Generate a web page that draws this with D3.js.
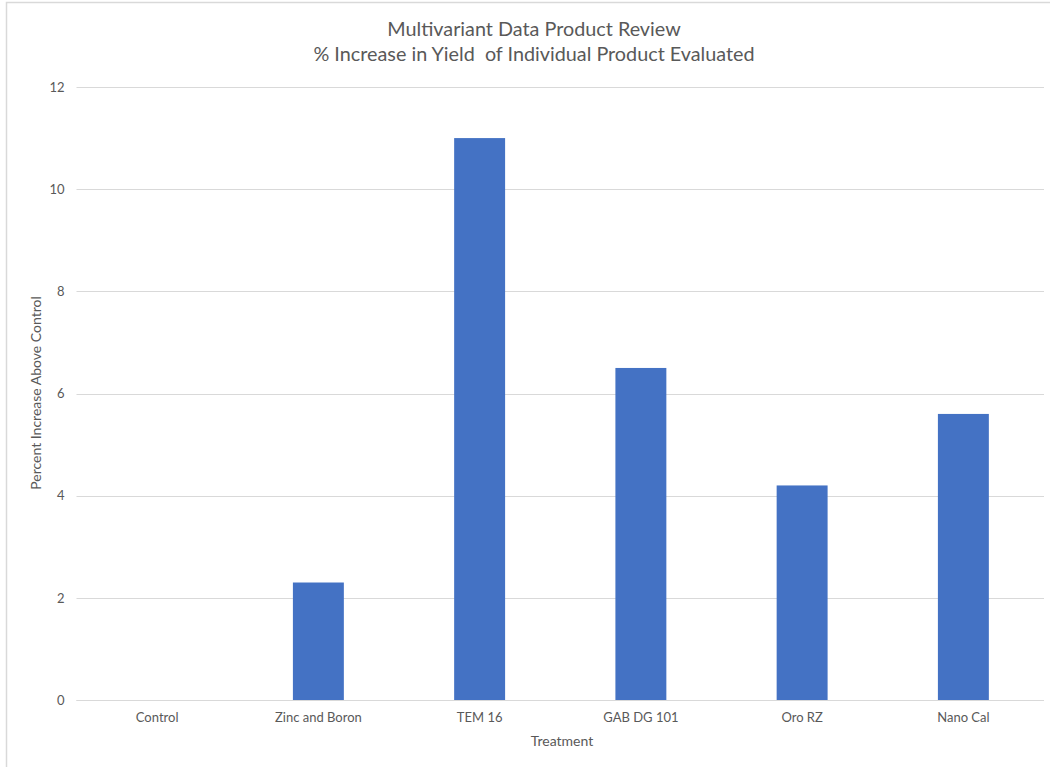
<!DOCTYPE html>
<html><head><meta charset="utf-8">
<script src="https://cdn.jsdelivr.net/npm/d3@7"></script>
<style>body{margin:0;background:#fff;}svg{display:block;font-family:Lato,"Open Sans",sans-serif;}</style>
</head><body><svg id="c" width="1050" height="767"></svg>
<script>
const categories = ["Control","Zinc and Boron","TEM 16","GAB DG 101","Oro RZ","Nano Cal"];
const values = [0, 2.3, 11.0, 6.5, 4.2, 5.6];
const yTicks = [0,2,4,6,8,10,12];
const titleLines = ["Multivariant Data Product Review","% Increase in Yield  of Individual Product Evaluated"];
const xTitle = "Treatment";
const yTitle = "Percent Increase Above Control";

const svg = d3.select("#c");
// chart border
svg.append("rect").attr("x",6.5).attr("y",2.5).attr("width",1060).attr("height",780)
  .attr("fill","none").attr("stroke","#D9D9D9").attr("stroke-width",1.5);

const x = d3.scaleBand().domain(categories).range([76.5,1044]).paddingInner(0.684).paddingOuter(0.342);
const y = d3.scaleLinear().domain([0,12]).range([700,87]);

const grid = svg.append("g");
grid.selectAll("line").data(yTicks).join("line")
  .attr("x1",76.5).attr("x2",1044).attr("y1",d=>Math.round(y(d))+0.5).attr("y2",d=>Math.round(y(d))+0.5)
  .attr("stroke","#D9D9D9").attr("stroke-width",1);

const yAxis = d3.axisLeft(y).tickValues(yTicks).tickSize(0).tickPadding(12);
const ya = svg.append("g").attr("transform","translate(76.5,0)").call(yAxis);
ya.select(".domain").remove();
ya.selectAll("text").attr("fill","#595959").attr("font-size","13px").attr("font-family","Lato,'Open Sans',sans-serif");

svg.append("g").selectAll("rect").data(values).join("rect")
  .attr("x",(d,i)=>x(categories[i])).attr("width",x.bandwidth())
  .attr("y",d=>y(d)).attr("height",d=>y(0)-y(d)).attr("fill","#4472C4");

const xAxis = d3.axisBottom(x).tickSize(0).tickPadding(13);
const xa = svg.append("g").attr("transform","translate(0,700)").call(xAxis);
xa.select(".domain").attr("stroke","#D9D9D9").attr("d","M76.5,0.5H1044");
xa.selectAll("text").attr("fill","#595959").attr("font-size","13px").attr("font-family","Lato,'Open Sans',sans-serif");

svg.selectAll(".title").data(titleLines).join("text").attr("class","title")
  .attr("x",534).attr("y",(d,i)=>36+i*25).attr("text-anchor","middle")
  .attr("fill","#595959").attr("font-size","19.8px").style("white-space","pre").text(d=>d);

svg.append("text").attr("x",562).attr("y",746).attr("text-anchor","middle")
  .attr("fill","#595959").attr("font-size","14px").text(xTitle);

svg.append("text").attr("transform","translate(41,393) rotate(-90)").attr("text-anchor","middle")
  .attr("fill","#595959").attr("font-size","14px").text(yTitle);
</script></body></html>
